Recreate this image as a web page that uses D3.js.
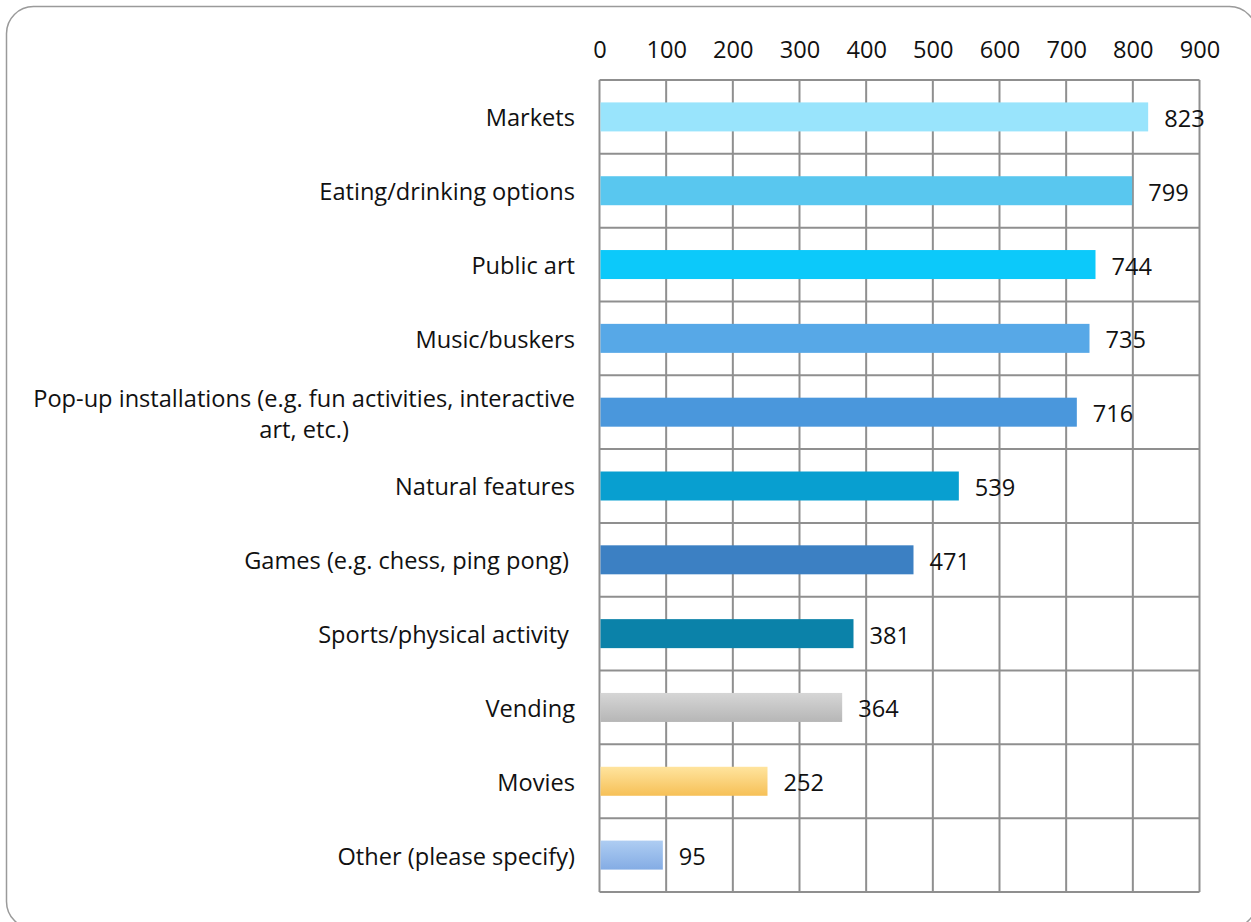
<!DOCTYPE html>
<html>
<head>
<meta charset="utf-8">
<script src="https://cdn.jsdelivr.net/npm/d3@7"></script>
<style>
  html, body { margin: 0; padding: 0; background: #fff; }
  svg { display: block; }
  text { font-family: "Open Sans", sans-serif; fill: #111; white-space: pre; }
</style>
</head>
<body>
<svg id="chart" width="1251" height="922"></svg>
<script>
const categories = [
  "Markets",
  "Eating/drinking options",
  "Public art",
  "Music/buskers",
  "Pop-up installations (e.g. fun activities, interactive|art, etc.)",
  "Natural features",
  "Games (e.g. chess, ping pong) ",
  "Sports/physical activity ",
  "Vending",
  "Movies",
  "Other (please specify)"
];
const values = [823, 799, 744, 735, 716, 539, 471, 381, 364, 252, 95];
const tickValues = [0, 100, 200, 300, 400, 500, 600, 700, 800, 900];
const barColors = ["#99E4FC", "#59C7EF", "#0CC9FA", "#57A8E7", "#4A97DC", "#089FD0", "#3C80C3", "#0B82A9", "url(#gGray)", "url(#gYellow)", "url(#gBlue)"];

const svg = d3.select("#chart");
const FS = 23.6;
const plot = { left: 599.5, right: 1199.5, top: 80, bottom: 892 };

// frame
svg.append("rect")
  .attr("x", 6.5).attr("y", 6.5)
  .attr("width", 1250).attr("height", 922)
  .attr("rx", 27).attr("ry", 27)
  .attr("fill", "#fff").attr("stroke", "#9a9a9a").attr("stroke-width", 1.5);

// gradients
const defs = svg.append("defs");
function grad(id, top, bottom) {
  const g = defs.append("linearGradient").attr("id", id)
    .attr("x1", 0).attr("y1", 0).attr("x2", 0).attr("y2", 1);
  g.append("stop").attr("offset", "0%").attr("stop-color", top);
  g.append("stop").attr("offset", "100%").attr("stop-color", bottom);
}
grad("gGray", "#d6d6d6", "#b6b6b6");
grad("gYellow", "#FFE49E", "#F6C057");
grad("gBlue", "#AECDF2", "#84ACE4");

const x = d3.scaleLinear().domain([0, 900]).range([plot.left, plot.right]);
const y = d3.scaleBand().domain(categories).range([plot.top, plot.bottom]).padding(0);

const gridColor = "#8f8f8f";
// vertical grid lines
svg.append("g").selectAll("line").data(tickValues).join("line")
  .attr("x1", d => x(d)).attr("x2", d => x(d))
  .attr("y1", plot.top).attr("y2", plot.bottom)
  .attr("stroke", gridColor).attr("stroke-width", 2);
// horizontal grid lines
const hBounds = categories.map(c => y(c)).concat([plot.bottom]);
svg.append("g").selectAll("line").data(hBounds).join("line")
  .attr("x1", plot.left).attr("x2", plot.right)
  .attr("y1", d => d).attr("y2", d => d)
  .attr("stroke", gridColor).attr("stroke-width", 2);

// top axis labels
const axis = d3.axisTop(x).tickValues(tickValues).tickSize(0).tickPadding(0);
const ag = svg.append("g").attr("transform", `translate(0, 58)`).call(axis);
ag.select(".domain").remove();
ag.selectAll("text").attr("font-size", FS).attr("font-family", "Open Sans").attr("fill", "#111").attr("dy", 0);

// bars
const barH = 29;
svg.append("g").selectAll("rect").data(values).join("rect")
  .attr("x", x(0) + 1)
  .attr("y", (d, i) => y(categories[i]) + y.bandwidth() / 2 - barH / 2)
  .attr("width", d => x(d) - x(0) - 1)
  .attr("height", barH)
  .attr("fill", (d, i) => barColors[i]);

// value labels
svg.append("g").selectAll("text").data(values).join("text")
  .attr("x", d => x(d) + 16)
  .attr("y", (d, i) => y(categories[i]) + y.bandwidth() / 2 + 1.5)
  .attr("dy", "0.36em")
  .attr("font-size", FS)
  .text(d => d);

// category labels
const lg = svg.append("g");
categories.forEach((c, i) => {
  const lines = c.split("|");
  const cy = y(c) + y.bandwidth() / 2 + 1;
  if (lines.length === 1) {
    lg.append("text").attr("x", 575).attr("y", cy).attr("dy", "0.36em")
      .attr("text-anchor", "end").attr("font-size", FS).text(lines[0]);
  } else {
    const t1 = lg.append("text").attr("x", 575).attr("y", cy - 15).attr("dy", "0.36em")
      .attr("text-anchor", "end").attr("font-size", FS).text(lines[0]);
    const w = t1.node().getComputedTextLength();
    lg.append("text").attr("x", 575 - w / 2).attr("y", cy + 16).attr("dy", "0.36em")
      .attr("text-anchor", "middle").attr("font-size", FS).text(lines[1]);
  }
});
</script>
</body>
</html>
